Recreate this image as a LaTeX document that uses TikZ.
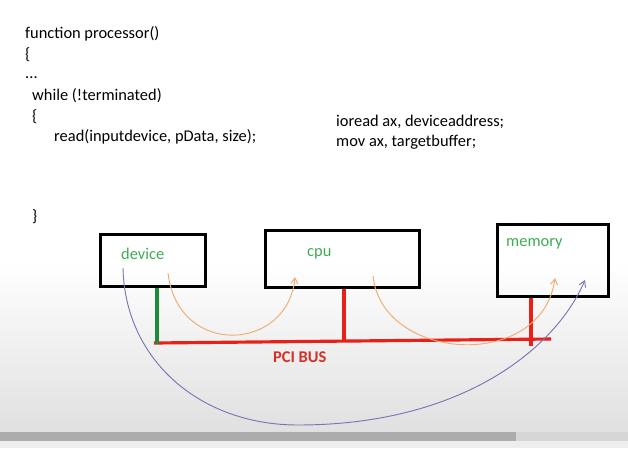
\documentclass[tikz,border=0pt]{standalone}
\usepackage{fontspec}
\setmainfont{Carlito}
\usetikzlibrary{
  arrows.meta,
  fit,
  calc
}
\definecolor{labelgreen}{RGB}{62, 172, 82}
\definecolor{tapgreen}{RGB}{28, 140, 58}
\definecolor{busred}{RGB}{232, 32, 24}
\definecolor{pcired}{RGB}{212, 48, 40}
\definecolor{wireorange}{RGB}{240, 172, 112}
\definecolor{wireblue}{RGB}{118, 118, 184}
\definecolor{bggray}{RGB}{224, 224, 224}
\definecolor{scrollgray}{RGB}{172, 172, 172}
\definecolor{trackgray}{RGB}{214, 214, 214}
\definecolor{statusgray}{RGB}{238, 238, 238}
\tikzset{
  codeline/.style = {
    anchor=base west, inner sep=0pt,
    font=\fontsize{14}{17}\selectfont
  },
  unitbox/.style = {
    rectangle, draw=black, line width=2.9pt, inner sep=0pt
  },
  unitlbl/.style = {
    anchor=base west, inner sep=0pt, text=labelgreen,
    font=\fontsize{14}{17}\selectfont
  },
  buslbl/.style = {
    anchor=base west, inner sep=0pt, text=pcired,
    font=\fontsize{14}{17}\selectfont\bfseries
  },
  bus/.style    = {draw=busred, line width=2.7pt},
  tapgrn/.style = {draw=tapgreen, line width=2.9pt},
  tapred/.style = {draw=busred, line width=3.1pt},
  arrorg/.style = {-{Straight Barb[length=5pt, width=6pt]},
                   draw=wireorange, line width=0.8pt},
  arrblu/.style = {-{Straight Barb[length=5pt, width=6pt]},
                   draw=wireblue, line width=0.8pt},
}

\begin{document}
\begin{tikzpicture}[x=0.03cm, y=-0.03cm]

  \useasboundingbox (0,0) rectangle (628,448);

  %% screen background
  \fill[white] (0,0) rectangle (628,448);
  \shade[top color=white, bottom color=bggray] (0,262) rectangle (628,432);
  \fill[scrollgray] (0,432) rectangle (516,441);
  \fill[trackgray] (516,432) rectangle (628,441);
  \fill[statusgray] (0,441) rectangle (628,448);

  %% code
  \node[codeline] (fn)  at (25,38)  {function processor()};
  \node[codeline] (ob1) at (25,59)  {\{};
  \node[codeline] (dot) at (25,78)  {...};
  \node[codeline] (wh)  at (32,100) {while (!terminated)};
  \node[codeline] (ob2) at (32,121) {\{};
  \node[codeline] (rd)  at (54,141) {read(inputdevice, pData, size);};
  \node[codeline] (cb)  at (32,221) {\}};

  \node[codeline] (io) at (336,126) {ioread ax, deviceaddress;};
  \node[codeline] (mv) at (336,146) {mov ax, targetbuffer;};

  %% units
  \node[unitbox, fit={(100.5,234.5) (205.5,286.5)}] (device) {};
  \node[unitbox, fit={(265.5,230.5) (419.5,287.5)}] (cpu) {};
  \node[unitbox, fit={(497.5,224.5) (608.5,296.5)}] (memory) {};

  \node[unitlbl] (devlbl) at (121,259) {device};
  \node[unitlbl] (cpulbl) at (307,256) {cpu};
  \node[unitlbl] (memlbl) at (506,246) {memory};

  %% bus
  \coordinate (busL) at (154,343);
  \coordinate (busR) at (551,339);
  \coordinate (devtap) at (157,344);
  \coordinate (cputap) at (344,342);
  \coordinate (memtap) at (531,346);

  \draw[bus] (busL) -- (busR);
  \draw[tapgrn] (device.south -| devtap) -- (devtap);
  \draw[tapred] (cpu.south -| cputap) -- (cputap);
  \draw[tapred] (memory.south -| memtap) -- (memtap);
  \node[buslbl] (pci) at (273,362) {PCI BUS};

  %% transfers
  \coordinate (devout) at (168,273);
  \coordinate (cpuin)  at (295,277);
  \coordinate (cpuout) at (373,276);
  \coordinate (memin)  at (555,278);
  \coordinate (devsrc) at (123,268);
  \coordinate (dip)    at (298,425);
  \coordinate (memdst) at (585,280);

  \draw[arrorg] (devout) .. controls (178,358) and (288,352) .. (cpuin);
  \draw[arrorg] (cpuout) .. controls (382,362) and (542,372) .. (memin);
  \draw[arrblu] (devsrc) .. controls (125,360) and (200,425) .. (dip)
                         .. controls (460,425) and (555,350) .. (memdst);

\end{tikzpicture}
\end{document}
